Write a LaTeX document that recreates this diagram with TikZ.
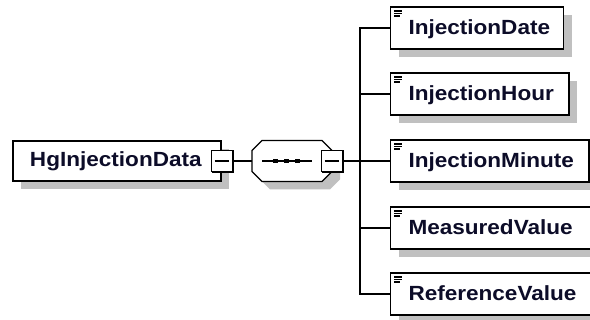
\documentclass[tikz,border=0pt]{standalone}
\usepackage{fontspec}
\newfontfamily\lblfont{Liberation Sans}[FakeStretch=1.1]
\usetikzlibrary{shadows,calc}
\definecolor{shgray}{RGB}{192,192,192}
\definecolor{txtc}{RGB}{12,12,40}
\newcommand\elicon[1]{%
  \draw[line width=1.1pt]
    ([xshift=3.5pt,yshift=-4pt]#1.north west) -- ++(7.5pt,0pt)
    ([xshift=3.5pt,yshift=-6.5pt]#1.north west) -- ++(7.5pt,0pt)
    ([xshift=3.5pt,yshift=-9pt]#1.north west) -- ++(6pt,0pt);}
\newcommand\minusbox[1]{%
  \draw[line width=2.2pt] ([xshift=0.7pt]#1.north east) -- ([xshift=0.7pt,yshift=-0.7pt]#1.south east) -- ([yshift=-0.7pt]#1.south west);
  \draw[line width=1.3pt] ([xshift=3pt]#1.west) -- ([xshift=-4pt]#1.east);}
\begin{document}
\begin{tikzpicture}[x=1pt,y=-1pt,
  elbox/.style={draw=black, line width=1.4pt, fill=white, minimum height=42pt,
    inner sep=0pt, outer sep=0pt, anchor=west,
    general shadow={fill=shgray, shadow xshift=8pt, shadow yshift=-8pt}},
  sqbox/.style={draw=black, line width=1.2pt, fill=white, minimum size=21pt,
    inner sep=0pt, outer sep=0pt},
  lbl/.style={font=\lblfont\bfseries\fontsize{20.5}{24}\selectfont, text=txtc,
    inner sep=0pt, outer sep=0pt, anchor=base west},
  conn/.style={draw=black, line width=1.4pt}]
\useasboundingbox (0,0) rectangle (590,320);
\clip (0,0) rectangle (590,320);
\fill[white] (0,0) rectangle (590,320);

% root element
\node[elbox, minimum width=208pt, minimum height=40pt] (root) at (13,161) {};
\node[lbl] (rootl) at ([xshift=17pt,yshift=-6pt]root.west) {HgInjectionData};
\node[sqbox] (sq1) at (222,161) {};
\minusbox{sq1}

% sequence compositor
\node[minimum width=80pt, minimum height=41pt, inner sep=0pt, outer sep=0pt] (seq) at (292,161) {};
\fill[shgray] (270,148.5) -- (330,148.5) -- (340,158.5) -- (340,179.5) -- (330,189.5) -- (270,189.5) -- (260,179.5) -- (260,158.5) -- cycle;
\draw[line width=1.4pt, fill=white] (262,140.5) -- (322,140.5) -- (332,150.5) -- (332,171.5) -- (322,181.5) -- (262,181.5) -- (252,171.5) -- (252,150.5) -- cycle;
\draw[line width=1.3pt] (262,161) -- (312,161);
\foreach \dx in {275,286.5,297.5} \fill (\dx-2.5,158.6) rectangle (\dx+2.5,163.4);
\node[sqbox] (sq2) at (332,161) {};
\minusbox{sq2}

\draw[conn] (sq1.east) -- (seq.west);
\coordinate (jn) at (360,161);
\draw[conn] (sq2.east) -- (jn);

% children
\node[elbox, minimum width=173pt] (d1) at (390.5,28) {};
\node[elbox, minimum width=178.5pt] (d2) at (390.5,94) {};
\node[elbox, minimum width=198.5pt] (d3) at (390.5,161) {};
\node[elbox, minimum width=212pt] (d4) at (390.5,228) {};
\node[elbox, minimum width=212pt] (d5) at (390.5,294) {};

\node[lbl] (l1) at ([xshift=18pt,yshift=-6.5pt]d1.west) {InjectionDate};
\node[lbl] (l2) at ([xshift=18pt,yshift=-6.5pt]d2.west) {InjectionHour};
\node[lbl] (l3) at ([xshift=18pt,yshift=-6.5pt]d3.west) {InjectionMinute};
\node[lbl] (l4) at ([xshift=18pt,yshift=-6.5pt]d4.west) {MeasuredValue};
\node[lbl] (l5) at ([xshift=18pt,yshift=-6.5pt]d5.west) {ReferenceValue};

\elicon{d1}\elicon{d2}\elicon{d3}\elicon{d4}\elicon{d5}

\draw[conn] (d1.west) -| (jn) |- (d5.west);
\draw[conn] (jn |- d2.west) -- (d2.west);
\draw[conn] (jn |- d3.west) -- (d3.west);
\draw[conn] (jn |- d4.west) -- (d4.west);
\end{tikzpicture}
\end{document}
